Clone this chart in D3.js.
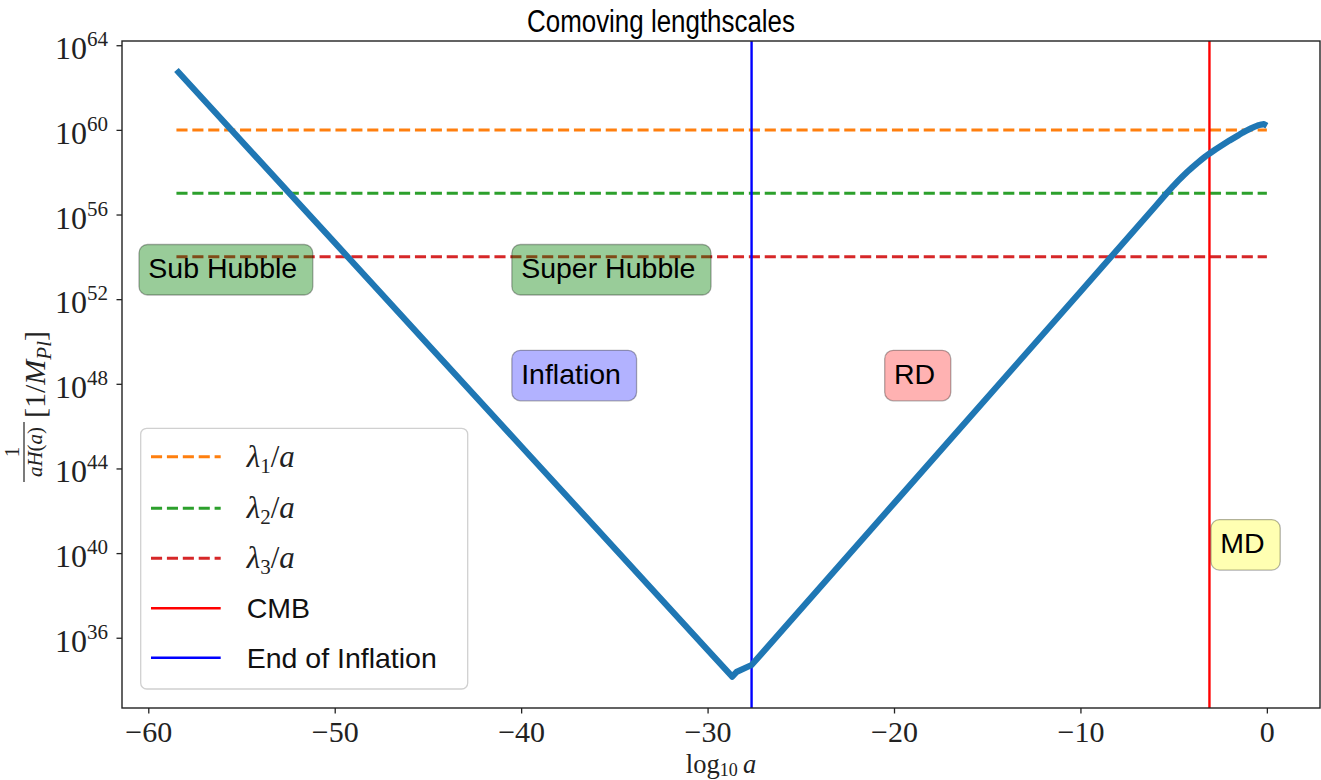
<!DOCTYPE html>
<html>
<head>
<meta charset="utf-8">
<script src="https://cdn.jsdelivr.net/npm/d3@7"></script>
<style>
  html, body { margin: 0; padding: 0; background: #fff; }
  svg { display: block; }
</style>
</head>
<body>
<svg id="chart" width="1321" height="780"></svg>
<script>
// ---- data -------------------------------------------------------------
// comoving Hubble radius 1/(aH) in Planck units, stored as log10 values
const logA      = [-58.49, -50, -40, -30, -28.68, -28.44, -27.64, -20, -10, -6,
                   -5.38, -5.0, -4.75, -4.5, -4.25, -4.0, -3.75, -3.5, -3.3, -3.08,
                   -2.75, -2.5, -2.25, -2.0, -1.75, -1.5, -1.3, -1.08, -0.85, -0.6,
                   -0.45, -0.3, -0.15, 0];
const logInvAH  = [62.83, 54.67, 45.05, 35.43, 34.16, 34.39, 34.71, 42.35, 52.35, 56.37,
                   57.0, 57.37, 57.6, 57.82, 58.03, 58.23, 58.42, 58.6, 58.74, 58.88,
                   59.08, 59.22, 59.36, 59.5, 59.63, 59.76, 59.87, 59.97, 60.07, 60.17,
                   60.22, 60.25, 60.27, 60.2];

// comoving wavelengths (constant), log10 values
const lambdaLabels = ["1", "2", "3"];
const lambdaLog    = [60, 57, 54];
const lambdaColors = ["#ff7f0e", "#2ca02c", "#d62728"];
const lambdaRange  = [-58.49, 0];

// epochs marked with vertical lines
const markerNames  = ["CMB", "End of Inflation"];
const markerLogA   = [-3.08, -27.64];
const markerColors = ["#ff0000", "#0000ff"];

// region labels
const regionText  = ["Sub Hubble", "Super Hubble", "Inflation", "RD", "MD"];
const regionLogA  = [-60, -40, -40, -20, -2.5];
const regionLogY  = [53, 53, 48, 48, 40];
const regionFill  = ["rgba(0,128,0,0.4)", "rgba(0,128,0,0.4)", "rgba(0,0,255,0.3)",
                     "rgba(255,0,0,0.3)", "rgba(255,255,0,0.3)"];

// ticks
const xTicks   = [-60, -50, -40, -30, -20, -10, 0];
const yTickExp = [36, 40, 44, 48, 52, 56, 60, 64];

// ---- layout -----------------------------------------------------------
const svg = d3.select("#chart");
const plot = { left: 122, right: 1320, top: 41, bottom: 708 };

const x = d3.scaleLinear().domain([-61.41, 2.85]).range([plot.left, plot.right]);
const y = d3.scaleLog().domain([Math.pow(10, 32.68), Math.pow(10, 64.2)])
            .range([plot.bottom, plot.top]);

const serif = "'Liberation Serif', 'Times New Roman', serif";
const sans  = "'Liberation Sans', Arial, sans-serif";

svg.append("defs").append("clipPath").attr("id", "clip")
  .append("rect")
  .attr("x", plot.left).attr("y", plot.top)
  .attr("width", plot.right - plot.left).attr("height", plot.bottom - plot.top);

const g = svg.append("g").attr("clip-path", "url(#clip)");

// comoving wavelength lines
const dash = "11.1,4.8";
lambdaLog.forEach((v, i) => {
  g.append("line")
    .attr("x1", x(lambdaRange[0])).attr("x2", x(lambdaRange[1]))
    .attr("y1", y(Math.pow(10, v))).attr("y2", y(Math.pow(10, v)))
    .attr("stroke", lambdaColors[i]).attr("stroke-width", 3)
    .attr("stroke-dasharray", dash);
});

// vertical epoch markers
markerLogA.forEach((v, i) => {
  g.append("line")
    .attr("x1", x(v)).attr("x2", x(v))
    .attr("y1", plot.top).attr("y2", plot.bottom)
    .attr("stroke", markerColors[i]).attr("stroke-width", 2.4);
});

// Hubble radius curve
const pts = logA.map((a, i) => [a, Math.pow(10, logInvAH[i])]);
const line = d3.line().x(d => x(d[0])).y(d => y(d[1])).curve(d3.curveLinear);
g.append("path").datum(pts)
  .attr("d", line)
  .attr("fill", "none")
  .attr("stroke", "#1f77b4")
  .attr("stroke-width", 6.2)
  .attr("stroke-linejoin", "round")
  .attr("stroke-linecap", "butt");

// region labels with rounded boxes
regionText.forEach((t, i) => {
  const gx = x(regionLogA[i]);
  const gy = y(Math.pow(10, regionLogY[i]));
  const grp = svg.append("g");
  const rect = grp.append("rect");
  const txt = grp.append("text")
    .attr("x", gx).attr("y", gy)
    .attr("font-family", sans).attr("font-size", 28.5)
    .attr("fill", "#000").text(t);
  const len = txt.node().getComputedTextLength();
  rect.attr("x", gx - 9.3).attr("y", gy - 33.5)
    .attr("width", len + 24.9).attr("height", 50.5)
    .attr("rx", 8.5).attr("ry", 8.5)
    .attr("fill", regionFill[i])
    .attr("stroke", "rgba(0,0,0,0.3)").attr("stroke-width", 1.3);
});

// ---- axes -------------------------------------------------------------
const xAxis = svg.append("g").attr("transform", `translate(0,${plot.bottom})`)
  .call(d3.axisBottom(x).tickValues(xTicks).tickSize(5.5).tickFormat(""));
xAxis.select(".domain").remove();
xAxis.selectAll(".tick line").attr("stroke", "#222").attr("stroke-width", 1.3);
xAxis.selectAll(".tick").append("text")
  .attr("y", 34).attr("text-anchor", "middle")
  .attr("font-family", serif).attr("font-size", 30).attr("fill", "#222")
  .text(d => d < 0 ? "\u2212" + Math.abs(d) : String(d));

const yAxis = svg.append("g").attr("transform", `translate(${plot.left},0)`)
  .call(d3.axisLeft(y).tickValues(yTickExp.map(e => Math.pow(10, e))).tickSize(5.5).tickFormat(""));
yAxis.select(".domain").remove();
yAxis.selectAll(".tick line").attr("stroke", "#222").attr("stroke-width", 1.3);
yAxis.selectAll(".tick").each(function(d, i) {
  const t = d3.select(this).append("text")
    .attr("x", -14).attr("y", 13.5).attr("text-anchor", "end")
    .attr("font-family", serif).attr("font-size", 32).attr("fill", "#222");
  t.append("tspan").text("10");
  t.append("tspan").attr("dy", -13).attr("font-size", 21).text(String(yTickExp[i]));
});

// frame
svg.append("rect")
  .attr("x", plot.left).attr("y", plot.top)
  .attr("width", plot.right - plot.left).attr("height", plot.bottom - plot.top)
  .attr("fill", "none").attr("stroke", "#222").attr("stroke-width", 1.4);

// title
svg.append("text")
  .attr("x", 661).attr("y", 32).attr("text-anchor", "middle")
  .attr("font-family", sans).attr("font-size", 31)
  .attr("textLength", 268).attr("lengthAdjust", "spacingAndGlyphs")
  .attr("fill", "#000")
  .text("Comoving lengthscales");

// x label: log10 a
const xl = svg.append("text")
  .attr("x", (plot.left + plot.right) / 2).attr("y", 772.5).attr("text-anchor", "middle")
  .attr("font-family", serif).attr("font-size", 26.5).attr("fill", "#222");
xl.append("tspan").text("log");
xl.append("tspan").attr("dy", 3).attr("font-size", 18).text("10");
xl.append("tspan").attr("dy", -3).attr("font-style", "italic").text("\u2009a");

// y label: 1/(aH(a)) [1/M_Pl], rotated
const yl = svg.append("g").attr("transform", "translate(5,386) rotate(-90)");
// fraction part (lower end of the label)
const fracCenter = -66;
yl.append("text").attr("x", fracCenter).attr("y", 14).attr("text-anchor", "middle")
  .attr("font-family", serif).attr("font-size", 21).attr("fill", "#222").text("1");
yl.append("line").attr("x1", fracCenter - 30).attr("x2", fracCenter + 30)
  .attr("y1", 19).attr("y2", 19).attr("stroke", "#222").attr("stroke-width", 1.2);
const den = yl.append("text").attr("x", fracCenter).attr("y", 37).attr("text-anchor", "middle")
  .attr("font-family", serif).attr("font-size", 21).attr("fill", "#222");
den.append("tspan").attr("font-style", "italic").text("aH");
den.append("tspan").text("(");
den.append("tspan").attr("font-style", "italic").text("a");
den.append("tspan").text(")");
const unit = yl.append("text").attr("x", -32).attr("y", 40).attr("text-anchor", "start")
  .attr("font-family", serif).attr("font-size", 30).attr("fill", "#222");
unit.append("tspan").text("[1/");
unit.append("tspan").attr("font-style", "italic").text("M");
unit.append("tspan").attr("dy", 6).attr("font-size", 21).attr("font-style", "italic").text("Pl");
unit.append("tspan").attr("dy", -6).text("]");

// ---- legend -----------------------------------------------------------
const leg = svg.append("g");
leg.append("rect")
  .attr("x", 140.7).attr("y", 428.3).attr("width", 327).attr("height", 260.7)
  .attr("rx", 6).attr("ry", 6)
  .attr("fill", "rgba(255,255,255,0.8)").attr("stroke", "#d0d0d0").attr("stroke-width", 1.3);

const rowY = [456.7, 508.3, 558.3, 608.3, 657.7];
const handleX = [151, 220.7];
const textX = 246.7;

lambdaLabels.forEach((lab, i) => {
  leg.append("line")
    .attr("x1", handleX[0]).attr("x2", handleX[1])
    .attr("y1", rowY[i]).attr("y2", rowY[i])
    .attr("stroke", lambdaColors[i]).attr("stroke-width", 3).attr("stroke-dasharray", dash);
  const t = leg.append("text").attr("x", textX).attr("y", rowY[i] + 10)
    .attr("font-family", serif).attr("font-size", 31).attr("fill", "#222");
  t.append("tspan").attr("font-style", "italic").text("\u03bb");
  t.append("tspan").attr("dy", 6).attr("font-size", 21).text(lab);
  t.append("tspan").attr("dy", -6).text("/");
  t.append("tspan").attr("font-style", "italic").text("a");
});

markerNames.forEach((name, i) => {
  const ry = rowY[3 + i];
  leg.append("line")
    .attr("x1", handleX[0]).attr("x2", handleX[1])
    .attr("y1", ry).attr("y2", ry)
    .attr("stroke", markerColors[i]).attr("stroke-width", 2.4);
  leg.append("text").attr("x", textX).attr("y", ry + 10)
    .attr("font-family", sans).attr("font-size", 28.5).attr("fill", "#111").text(name);
});
</script>
</body>
</html>
